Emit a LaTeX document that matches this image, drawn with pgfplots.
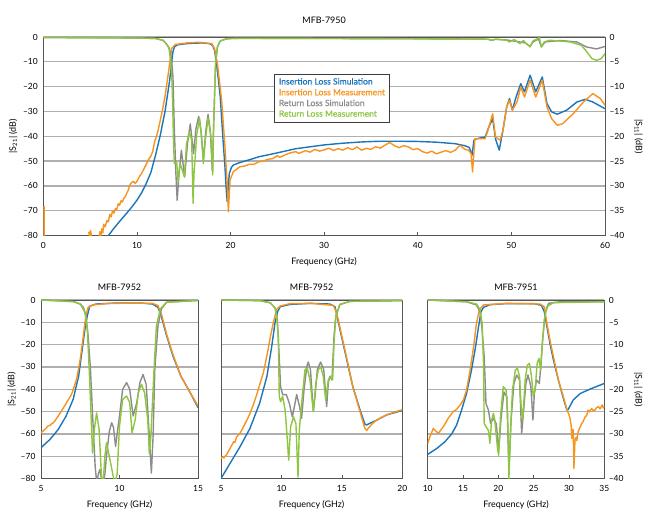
\documentclass[border=0pt]{standalone}
\usepackage{pgfplots}
\pgfplotsset{compat=1.18}
\usepackage{fontspec}
\setmainfont{Lato}
\newfontfamily\legfont{Lato}[FakeBold=0.5]
\definecolor{ilsim}{RGB}{27,117,187}
\definecolor{ilmeas}{RGB}{247,148,29}
\definecolor{rlsim}{RGB}{140,140,140}
\definecolor{rlmeas}{RGB}{141,198,63}
\definecolor{axisc}{RGB}{85,85,85}
\definecolor{gridc}{RGB}{175,175,175}
\definecolor{legc}{RGB}{60,60,60}
\pgfplotsset{
  basefig/.style={
    scale only axis, anchor=south west,
    axis line style={draw=axisc, line width=0.9bp},
    every tick label/.append style={font=\fontsize{8.5}{10}\selectfont},
    /pgf/number format/assume math mode=true,
    ymajorgrids, major grid style={draw=gridc, line width=1.3bp},
    ytick style={draw=none},
    xtick style={draw=axisc, line width=0.7bp},
    tick align=inside, major tick length=3.5bp,
    xtick pos=left,
    every x tick label/.append style={yshift=-3.5bp},
    every axis title/.style={at={(axis description cs:0.5,1)}, anchor=center, font=\fontsize{9}{11}\selectfont},
    every axis x label/.style={at={(axis description cs:0.5,0)}, anchor=center, yshift=-26.5bp, font=\fontsize{9}{11}\selectfont},
    every axis plot/.append style={line width=1.4bp, no markers, line join=round},
    clip mode=individual,
  },
  s11fig/.style={
    scale only axis, anchor=south west,
    ymin=-40, ymax=0,
    every axis plot/.append style={line width=1.4bp, no markers, line join=round},
  },
}
\begin{document}
\begin{tikzpicture}
\useasboundingbox (0,0) rectangle (650bp,522bp);
% ---------------- top plot ----------------
\begin{axis}[basefig, at={(43.3bp,286.5bp)}, width=561.7bp, height=198.5bp,
  xmin=0, xmax=60, ymin=-80, ymax=0,
  xtick={0,10,...,60},
  ytick={0,-10,...,-80}, yticklabels={0,--10,--20,--30,--40,--50,--60,--70,--80},
  every y tick label/.append style={xshift=-2bp},
  title={MFB-7950}, title style={yshift=16.6bp},
  xlabel={Frequency (GHz)},
  ylabel={|S\textsubscript{21}| (dB)},
  every axis y label/.style={at={(axis description cs:-0.0534,0.5)}, rotate=90, anchor=center, font=\fontsize{9}{11}\selectfont},
]
\addplot[ilsim] coordinates {(6.96,-80)(7.5,-77.3)(8,-75)(8.5,-72.8)(9,-70.6)(9.5,-68.3)(10,-65.8)(10.5,-62.8)(11,-59)(11.5,-54.5)(12,-47.5)(12.5,-39.5)(13,-30)(13.3,-22.5)(13.5,-17.4)(13.7,-10.5)(13.85,-6)(14,-4)(14.3,-3.2)(15,-2.8)(16,-2.5)(17,-2.4)(17.8,-2.7)(18.1,-3.5)(18.3,-5.5)(18.5,-10.7)(18.7,-17)(18.9,-24)(19.2,-41.5)(19.4,-52)(19.55,-62)(19.65,-66.4)(19.75,-61)(19.87,-55)(20.1,-52.5)(20.3,-51.6)(21,-50.6)(22,-49.5)(23,-48.3)(25,-46.7)(27,-45)(30,-43.5)(32,-42.8)(34,-42.3)(36,-42)(38,-42)(40,-42.1)(42,-42.4)(44,-43)(45,-43.8)(45.5,-44.5)(45.8,-47.6)(46.0,-41.6)(46.3,-41)(47.2,-40.3)(47.6,-36.2)(48.0,-32.9)(48.3,-41)(48.7,-45.6)(49.1,-37.6)(49.5,-28.2)(49.8,-24.8)(50.1,-29.5)(50.5,-24.2)(51.0,-18.8)(51.4,-22.1)(52.0,-15.4)(52.6,-22.1)(53.3,-16.1)(53.8,-26.8)(54.3,-30.2)(54.9,-31.1)(55.9,-29.5)(57.0,-26.2)(57.9,-25.1)(58.7,-26.2)(60,-28.9)};
\addplot[ilmeas] coordinates {(0.08,-68)(0.08,-82)};
\addplot[ilmeas] coordinates {(4.85,-78.5)(4.95,-80.5)(5.05,-78)(5.15,-80.5)};
\addplot[ilmeas] coordinates {(5.95,-81)(6.05,-78.5)(6.15,-80)(6.25,-77.3)(6.35,-79)(6.45,-75.5)(6.6,-76.5)(6.8,-74)(6.95,-74.5)(7.1,-71.5)(7.25,-72.5)(7.4,-70)(7.55,-71)(7.7,-69.2)(7.85,-69.5)(8.0,-67.2)(8.15,-67.8)(8.3,-66)(8.45,-66.5)(8.6,-65)(8.75,-64.5)(8.9,-63)(9.05,-62)(9.2,-60)(9.35,-59)(9.5,-58.5)(9.65,-58.2)(9.8,-59)(9.95,-58.5)(10.1,-57.5)(10.3,-56)(10.5,-55)(10.7,-53.5)(10.9,-52)(11.1,-50.5)(11.3,-49)(11.5,-48)(11.7,-46)(11.9,-42)(12.1,-40)(12.3,-37)(12.5,-33.5)(12.75,-29)(13.0,-24)(13.25,-17.5)(13.5,-10.7)(13.7,-4.7)(14.1,-3)(15.3,-2.4)(16.7,-2.1)(18,-2.7)(18.3,-4.7)(18.6,-10.7)(19.05,-25.5)(19.4,-44)(19.66,-60)(19.77,-70.4)(19.95,-57.6)(20.3,-54.3)(21,-52.3)(21.5,-52)(22,-51.3)(22.5,-51.3)(23,-50.3)(23.5,-50)(24,-49.3)(24.5,-49)(25,-47.8)(25.25,-48.5)(25.5,-48.1)(26,-47.2)(26.5,-46.6)(27,-46.2)(27.25,-46.9)(27.5,-46.6)(28,-45.8)(28.5,-46.4)(29,-45.3)(29.5,-46)(30,-45.5)(30.5,-44.8)(31,-45.7)(31.5,-45)(32,-45.6)(32.5,-44.6)(33,-45.4)(33.5,-44.3)(34,-45.6)(34.5,-44.9)(35,-45.3)(35.5,-44.2)(36,-44.8)(36.5,-43.6)(37,-42.5)(37.5,-43.8)(38,-44.6)(38.5,-43.8)(39,-44.3)(39.5,-45.4)(40,-45)(40.5,-46.2)(41,-46.8)(41.5,-46)(42,-47.1)(42.5,-46.4)(43,-45.8)(43.5,-46.5)(44,-45.6)(44.5,-43.6)(45,-45.2)(45.4,-45.6)(45.7,-47)(45.85,-54.4)(46.1,-41)(46.5,-41)(47.2,-41)(47.5,-37.6)(48.0,-30.9)(48.3,-40.3)(48.8,-41.6)(49.1,-37.6)(49.5,-28.2)(49.8,-25.5)(50.1,-29.5)(50.6,-26.2)(51.0,-20.1)(51.4,-24.2)(52.0,-17.4)(52.6,-24.2)(53.3,-17.4)(53.8,-28.2)(54.3,-32.9)(54.9,-35.6)(55.5,-34.9)(56.6,-30.9)(57.7,-26.2)(58.7,-22.8)(59.5,-24.8)(60,-27.5)};
\end{axis}
\begin{axis}[s11fig, at={(43.3bp,286.5bp)}, width=561.7bp, height=198.5bp,
  xmin=0, xmax=60, hide x axis, axis line style={draw=none},
  ytick={0,-5,...,-40}, yticklabels={0,--5,--10,--15,--20,--25,--30,--35,--40},
  ytick style={draw=none}, yticklabel pos=right,
  every tick label/.append style={font=\fontsize{8.5}{10}\selectfont},
  every y tick label/.append style={xshift=1bp},
  ylabel={|S\textsubscript{11}| (dB)},
  every axis y label/.style={at={(axis description cs:1.0596,0.5)}, rotate=-90, anchor=center, font=\fontsize{9}{11}\selectfont},
  legend style={at={(0.4107,0.8136)}, anchor=north west, draw=legc, line width=0.8bp, fill=white,
    font=\legfont\fontsize{8.6}{10}\selectfont, inner xsep=2.5bp, inner ysep=1.8bp, row sep=-1.0bp},
  legend cell align=left,
]
\addplot[rlsim, forget plot] coordinates {(0,-0.1)(5,-0.1)(10,-0.2)(12,-0.3)(12.8,-0.7)(13.2,-1.5)(13.5,-2.5)(13.7,-4.5)(13.85,-8)(14.0,-18.7)(14.15,-27)(14.3,-32.9)(14.5,-27.5)(14.75,-22.8)(15.1,-28.2)(15.4,-21.5)(15.7,-17.5)(16.05,-23.5)(16.3,-18.5)(16.6,-16)(16.85,-19)(17.1,-24.8)(17.35,-19)(17.6,-15.6)(17.85,-19)(18.05,-27)(18.2,-17.5)(18.4,-5.4)(18.6,-2)(18.9,-0.8)(19.5,-0.4)(20,-0.3)(30,-0.3)(40,-0.35)(45,-0.4)(47.5,-0.45)(47.9,-0.7)(48.3,-0.45)(49.5,-0.6)(50.9,-1)(51.5,-1.2)(52,-1.9)(52.3,-1)(52.9,-0.4)(53.2,-2)(53.6,-1)(55.2,-0.7)(57,-1)(58,-2)(59.1,-2.4)(60,-1.9)};
\addplot[rlmeas, forget plot] coordinates {(0,-0.15)(10,-0.2)(12,-0.3)(12.8,-0.65)(13.4,-2)(13.6,-4.7)(13.75,-9)(13.85,-16)(13.92,-22)(14.0,-25.5)(14.25,-25.2)(14.4,-29.2)(14.6,-25.5)(14.85,-26.8)(15.07,-28.2)(15.3,-21.5)(15.6,-19.1)(15.85,-20.8)(16.0,-33.5)(16.1,-27.5)(16.4,-19.5)(16.7,-16.4)(16.9,-20)(17.1,-25.5)(17.3,-20.8)(17.6,-16.4)(17.9,-20)(18.1,-27.8)(18.2,-17.5)(18.4,-5.4)(18.6,-2)(18.9,-0.8)(19.6,-0.35)(21,-0.25)(30,-0.3)(45,-0.4)(47.5,-0.45)(47.9,-0.65)(48.3,-0.45)(49.5,-0.65)(49.8,-1)(50.3,-0.5)(50.9,-1.35)(51.3,-0.7)(51.6,-1.35)(52.0,-2)(52.3,-0.8)(53.0,-0.15)(53.2,-2)(53.5,-1)(54.1,-0.65)(56.3,-1)(57.5,-1.7)(58.2,-3.35)(58.6,-4.35)(59.1,-4.7)(59.6,-4.35)(60,-3.35)};
\addlegendimage{empty legend}\addlegendentry{\textcolor{ilsim}{Insertion Loss Simulation}}
\addlegendimage{empty legend}\addlegendentry{\textcolor{ilmeas}{Insertion Loss Measurement}}
\addlegendimage{empty legend}\addlegendentry{\textcolor{rlsim}{Return Loss Simulation}}
\addlegendimage{empty legend}\addlegendentry{\textcolor{rlmeas}{Return Loss Measurement}}
\end{axis}
% ---------------- bottom left ----------------
\begin{axis}[basefig, at={(41bp,43.5bp)}, width=157bp, height=178.5bp,
  xmin=5, xmax=15, ymin=-80, ymax=0,
  xtick={5,10,15},
  ytick={0,-10,...,-80}, yticklabels={0,--10,--20,--30,--40,--50,--60,--70,--80},
  every y tick label/.append style={xshift=-2bp},
  title={MFB-7952}, title style={yshift=12.5bp},
  xlabel={Frequency (GHz)},
  ylabel={|S\textsubscript{21}| (dB)},
  every axis y label/.style={at={(axis description cs:-0.1866,0.5)}, rotate=90, anchor=center, font=\fontsize{9}{11}\selectfont},
]
\addplot[ilsim] coordinates {(5,-66.2)(5.57,-62.5)(6.1,-58)(6.6,-52)(7.05,-44.5)(7.4,-34)(7.6,-23.5)(7.8,-13)(7.95,-7)(8.1,-2.8)(8.5,-1.8)(9.8,-1.35)(11.3,-1.35)(12.1,-1.8)(12.45,-3.3)(12.65,-7)(13,-16)(13.4,-25)(13.9,-34)(14.5,-41.5)(15,-48.2)};
\addplot[ilmeas] coordinates {(5,-59.5)(5.2,-58.3)(5.36,-57.2)(5.45,-56.4)(5.57,-56.2)(5.7,-55.3)(5.8,-55)(6.1,-52)(6.5,-47.5)(6.95,-42.2)(7.27,-35.5)(7.5,-26.5)(7.7,-16)(7.86,-7)(8.0,-3.3)(8.3,-2.2)(9.2,-1.6)(10.9,-1.35)(12.1,-1.5)(12.45,-2.5)(12.7,-7)(13,-15.3)(13.4,-24.3)(13.9,-34)(14.5,-41.5)(15,-47.5)};
\end{axis}
\begin{axis}[s11fig, at={(41bp,43.5bp)}, width=157bp, height=178.5bp, xmin=5, xmax=15, hide axis]
\addplot[rlsim] coordinates {(5,0)(7.05,-0.3)(7.5,-0.9)(7.7,-1.65)(7.86,-3.5)(8.0,-8)(8.15,-15.5)(8.3,-26.8)(8.45,-37.3)(8.55,-41)(8.65,-39)(8.75,-38)(8.85,-40)(8.96,-41.5)(9.07,-39)(9.17,-35)(9.35,-29.5)(9.5,-27.5)(9.62,-28.6)(9.75,-32.8)(9.85,-30)(10.0,-26)(10.2,-20)(10.45,-18.5)(10.65,-20)(10.87,-26)(11.1,-23)(11.3,-18.5)(11.5,-16.7)(11.7,-18.9)(11.9,-30.5)(12.03,-38.8)(12.14,-30.5)(12.25,-15.5)(12.45,-5.8)(12.67,-2)(13,-0.5)(15,-0.1)};
\addplot[rlmeas] coordinates {(5,0)(7.05,-0.4)(7.5,-0.9)(7.8,-2.75)(7.95,-6.5)(8.07,-15.5)(8.2,-26.8)(8.28,-34.3)(8.4,-29)(8.54,-25.3)(8.7,-29)(8.85,-39.5)(8.96,-41)(9.07,-35)(9.17,-32)(9.35,-35)(9.6,-39.5)(9.7,-41)(9.85,-39)(10.0,-28.3)(10.2,-22.3)(10.45,-21.5)(10.65,-23)(10.8,-29.8)(11.0,-26.8)(11.2,-20.8)(11.4,-18.9)(11.6,-20.8)(11.8,-26.8)(11.9,-34.5)(12.0,-30.5)(12.2,-15.5)(12.35,-5.8)(12.6,-2)(13,-0.5)(15,-0.1)};
\end{axis}
% ---------------- bottom middle ----------------
\begin{axis}[basefig, at={(221bp,43.5bp)}, width=181.3bp, height=178.5bp,
  xmin=5, xmax=20, ymin=-80, ymax=0,
  xtick={5,10,15,20},
  ytick={0,-10,...,-80}, yticklabels={},
  title={MFB-7952}, title style={yshift=12.5bp},
  xlabel={Frequency (GHz)},
]
\addplot[ilsim] coordinates {(5,-80)(5.74,-73.3)(6.57,-65.8)(7.4,-57.5)(8.2,-46.2)(8.8,-34.2)(9.2,-20.7)(9.47,-10.2)(9.7,-5)(9.9,-3)(10.7,-2)(12.4,-1.5)(14.0,-1.8)(14.43,-3)(14.6,-7.2)(14.84,-13.2)(15.4,-26.7)(15.9,-38.7)(16.5,-49.2)(16.9,-55.6)(17.05,-56)(17.3,-55.3)(17.9,-53.8)(18.7,-51.5)(20,-49.5)};
\addplot[ilmeas] coordinates {(5,-71)(5.15,-70.2)(5.25,-70.8)(5.33,-70)(5.45,-69.5)(5.6,-68)(5.75,-66.5)(5.9,-65)(6.05,-63.5)(6.15,-63.8)(6.3,-61.3)(6.45,-60.5)(6.57,-59.8)(6.8,-57.5)(7.0,-55.3)(7.2,-53.2)(7.4,-50.8)(7.7,-46.5)(7.95,-42.5)(8.2,-38)(8.5,-32.7)(8.7,-27.5)(8.9,-22.2)(9.1,-16)(9.33,-10.2)(9.6,-4.2)(9.9,-2.7)(10.7,-1.65)(12.4,-1.5)(14.3,-2.4)(14.5,-5)(14.7,-8.7)(15,-16.2)(15.4,-26)(15.9,-38.7)(16.5,-50)(16.9,-57.5)(17.05,-58.5)(17.2,-57.3)(17.3,-56.8)(17.6,-55)(17.9,-53.8)(18.3,-52.5)(18.7,-51.5)(19.3,-50.3)(20,-49.2)};
\end{axis}
\begin{axis}[s11fig, at={(221bp,43.5bp)}, width=181.3bp, height=178.5bp, xmin=5, xmax=20, hide axis]
\addplot[rlsim] coordinates {(5,0)(8.2,-0.15)(9.05,-0.6)(9.47,-1.75)(9.66,-4.4)(9.8,-11.9)(9.93,-19.4)(10.1,-21.2)(10.4,-21.2)(10.65,-23.1)(10.9,-26.2)(11.07,-23.9)(11.26,-21.2)(11.5,-23.9)(11.67,-26.5)(11.87,-20.1)(12.1,-14.9)(12.22,-13.9)(12.4,-15.6)(12.64,-25)(12.8,-20.9)(12.97,-15.6)(13.24,-13.9)(13.5,-15.6)(13.74,-23.9)(13.88,-18.6)(14.0,-17.1)(14.18,-17.9)(14.35,-8.1)(14.5,-3.6)(14.84,-1)(15.67,-0.3)(20,-0.15)};
\addplot[rlmeas] coordinates {(5,0)(8.2,-0.15)(9.05,-0.6)(9.47,-1.75)(9.6,-3.5)(9.74,-8)(9.82,-21.6)(9.93,-22.8)(10.1,-21.6)(10.3,-24.6)(10.43,-29.1)(10.6,-35.9)(10.76,-28.4)(11.0,-26.2)(11.2,-27.7)(11.37,-39.7)(11.48,-29.1)(11.67,-23.1)(11.95,-15.6)(12.14,-15.3)(12.36,-17.9)(12.64,-25)(12.85,-18.6)(13.05,-15.6)(13.24,-14.9)(13.46,-17.1)(13.66,-22.4)(13.88,-17.9)(14.07,-17.1)(14.24,-17.9)(14.35,-9.6)(14.5,-3.6)(14.84,-1)(15.67,-0.3)(20,-0.15)};
\end{axis}
% ---------------- bottom right ----------------
\begin{axis}[basefig, at={(427.7bp,43.5bp)}, width=176.6bp, height=178.5bp,
  xmin=10, xmax=35, ymin=-80, ymax=0,
  xtick={10,15,...,35},
  ytick={0,-10,...,-80}, yticklabels={},
  title={MFB-7951}, title style={yshift=12.5bp},
  xlabel={Frequency (GHz)},
]
\addplot[ilsim] coordinates {(10,-69.2)(11.3,-66.5)(12.45,-63.5)(13.4,-60)(14.1,-56)(14.8,-49.3)(15.5,-41.9)(16.2,-31.4)(16.7,-22.4)(17.2,-12)(17.55,-5.2)(17.9,-3.3)(18.8,-2.1)(21.2,-1.6)(25,-1.6)(26.1,-2.4)(26.5,-5.2)(26.8,-10.5)(27.3,-19.4)(27.8,-26.9)(28.5,-35.9)(29.2,-44.1)(29.7,-49.3)(29.9,-49)(30.6,-44.8)(31.6,-41.9)(33,-39.9)(35,-37.4)};
\addplot[ilmeas] coordinates {(10,-64.3)(10.3,-61.3)(10.55,-59.5)(10.8,-57.5)(11.1,-58.6)(11.5,-59.8)(11.8,-58.5)(12.2,-56.8)(12.5,-55.3)(12.9,-53)(13.2,-51.8)(13.6,-50)(14.1,-49)(14.6,-47)(15.05,-44.8)(15.5,-40.4)(16,-31.4)(16.5,-20.9)(16.9,-10.5)(17.3,-4.5)(17.9,-2.2)(21.2,-1.5)(25.9,-1.8)(26.5,-3)(26.8,-9)(27.3,-17.9)(27.8,-25.4)(28.5,-35.9)(29.2,-43.3)(29.7,-49)(30.1,-52.3)(30.3,-56)(30.4,-62)(30.5,-58)(30.6,-58.3)(30.7,-75.5)(30.85,-62.8)(31.0,-61.5)(31.1,-63)(31.3,-59)(31.5,-57.5)(31.8,-55.3)(32.0,-54.5)(32.3,-52.3)(32.5,-51.8)(32.7,-49.3)(32.9,-50.2)(33.2,-48.6)(33.4,-49.5)(33.7,-49.3)(33.9,-48.2)(34.2,-47.8)(34.4,-48.8)(34.7,-47)(34.85,-48.4)(35,-47.8)};
\end{axis}
\begin{axis}[s11fig, at={(427.7bp,43.5bp)}, width=176.6bp, height=178.5bp,
  xmin=10, xmax=35, hide x axis, axis line style={draw=none},
  ytick={0,-5,...,-40}, yticklabels={0,--5,--10,--15,--20,--25,--30,--35,--40},
  ytick style={draw=none}, yticklabel pos=right,
  every tick label/.append style={font=\fontsize{8.5}{10}\selectfont},
  every y tick label/.append style={xshift=1bp},
  ylabel={|S\textsubscript{11}| (dB)},
  every axis y label/.style={at={(axis description cs:1.1925,0.5)}, rotate=-90, anchor=center, font=\fontsize{9}{11}\selectfont},
]
\addplot[rlsim] coordinates {(10,0)(15.5,-0.4)(16.9,-1.1)(17.4,-2.6)(17.7,-6.7)(18,-12.7)(18.25,-23.2)(18.6,-24.7)(18.9,-27.7)(19.3,-26.5)(19.7,-27.7)(20.05,-33.6)(20.4,-26.2)(20.8,-20.6)(21.2,-21.7)(21.5,-38.1)(21.8,-26.9)(22.2,-18.7)(22.6,-16.8)(23,-17.9)(23.3,-29.9)(23.5,-26.2)(23.9,-18.7)(24.2,-16.8)(24.6,-19.4)(24.9,-26.9)(25.1,-20.9)(25.4,-17.9)(25.8,-18.7)(26,-15)(26.3,-8.2)(26.65,-3)(27.1,-0.75)(28.7,-0.4)(35,-0.4)};
\addplot[rlmeas] coordinates {(10,0)(15.5,-0.4)(16.9,-0.9)(17.4,-2.1)(17.7,-5.2)(17.9,-14.2)(18.0,-27.7)(18.25,-28.4)(18.6,-29.2)(18.8,-32.1)(19.05,-26.9)(19.3,-25.4)(19.5,-26.9)(19.9,-33.6)(20.05,-34.8)(20.3,-26.2)(20.7,-19.4)(21.1,-20.2)(21.3,-24.7)(21.5,-40)(21.75,-28.4)(22,-20.2)(22.4,-15.7)(22.7,-15.3)(23,-17.2)(23.2,-23.2)(23.45,-26.9)(23.8,-17.9)(24.1,-14.6)(24.4,-14.2)(24.7,-17.2)(24.95,-21.7)(25.2,-20.2)(25.5,-14.2)(25.75,-13.1)(26,-15.7)(26.2,-10.5)(26.5,-4.5)(26.85,-1.5)(27.8,-0.6)(35,-0.4)};
\end{axis}
\end{tikzpicture}
\end{document}
